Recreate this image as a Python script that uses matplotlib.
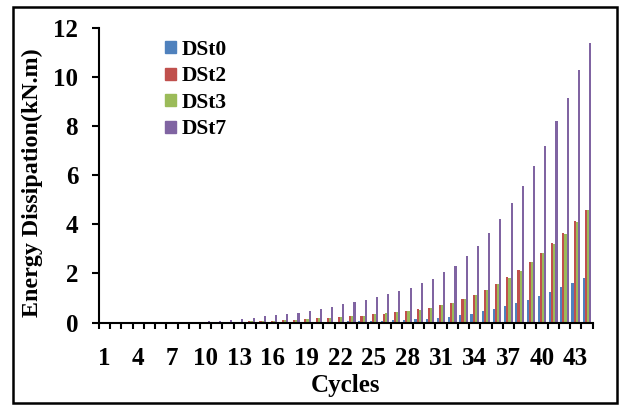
import numpy as np
import matplotlib
matplotlib.use("Agg")
import matplotlib.pyplot as plt
from matplotlib.patches import Rectangle, Patch

plt.rcParams['font.family'] = ['Liberation Serif', 'DejaVu Serif']
plt.rcParams['font.weight'] = 'bold'

# energy dissipated per cycle (kN.m)
cycles = np.arange(1, 45)
dst0 = [0, 0, 0, 0, 0, 0, 0, 0,
        0.005, 0.005, 0.01, 0.01, 0.01, 0.015, 0.015, 0.02, 0.02, 0.025, 0.03, 0.03,
        0.035, 0.04, 0.05, 0.055, 0.065, 0.075, 0.09, 0.1,
        0.14, 0.16, 0.2, 0.22, 0.29, 0.36, 0.46, 0.56, 0.67, 0.78, 0.93, 1.08,
        1.25, 1.43, 1.63, 1.83]
dst2 = [0, 0, 0, 0, 0, 0, 0, 0,
        0.01, 0.015, 0.02, 0.03, 0.04, 0.05, 0.06, 0.08, 0.1, 0.12,
        0.14, 0.17, 0.2, 0.22, 0.25, 0.28, 0.33, 0.36, 0.41, 0.46,
        0.54, 0.6, 0.7, 0.8, 0.96, 1.12, 1.34, 1.56, 1.84, 2.13,
        2.48, 2.83, 3.23, 3.64, 4.12, 4.59]
dst3 = [0, 0, 0, 0, 0, 0, 0, 0,
        0.01, 0.015, 0.02, 0.03, 0.04, 0.05, 0.06, 0.08, 0.1, 0.12,
        0.14, 0.17, 0.19, 0.22, 0.25, 0.28, 0.33, 0.37, 0.41, 0.46,
        0.53, 0.6, 0.7, 0.8, 0.95, 1.12, 1.34, 1.56, 1.83, 2.12,
        2.47, 2.82, 3.22, 3.63, 4.11, 4.58]
dst7 = [0, 0, 0, 0, 0, 0, 0, 0,
        0.04, 0.05, 0.08, 0.1, 0.16, 0.2, 0.25, 0.29, 0.35, 0.39,
        0.47, 0.55, 0.63, 0.74, 0.82, 0.91, 1.03, 1.15, 1.28, 1.41,
        1.6, 1.79, 2.06, 2.31, 2.71, 3.12, 3.65, 4.21, 4.88, 5.57,
        6.4, 7.21, 8.2, 9.15, 10.28, 11.4]

series = [("DSt0", dst0, "#4F81BD"),
          ("DSt2", dst2, "#C0504D"),
          ("DSt3", dst3, "#9BBB59"),
          ("DSt7", dst7, "#8064A2")]

fig = plt.figure(figsize=(6.19, 4.05), dpi=100)
ax = fig.add_axes([99 / 619, 82.5 / 405, 493.5 / 619, 294.2 / 405])

w = 0.19
for k, (name, vals, col) in enumerate(series):
    ax.bar(cycles + (k - 1.5) * w, vals, width=w, color=col, label=name)

ax.set_xlim(0.5, 44.5)
ax.set_ylim(0, 12)
ax.set_yticks(np.arange(0, 13, 2))
ax.set_xticks(cycles[::3])
ax.set_xticks(np.arange(0.5, 45, 1), minor=True)
ax.tick_params(axis='x', which='major', length=0, labelsize=18, pad=17.5)
ax.tick_params(axis='x', which='minor', length=4.5, width=1.5, direction='out')
ax.tick_params(axis='y', length=5, width=1.5, labelsize=18, pad=10)

for s in ['top', 'right']:
    ax.spines[s].set_visible(False)
for s in ['left', 'bottom']:
    ax.spines[s].set_linewidth(1.5)

ax.set_xlabel("Cycles", fontsize=18, fontweight='bold', labelpad=3)
ax.set_ylabel("Energy Dissipation(kN.m)", fontsize=17.3, fontweight='bold')
ax.yaxis.set_label_coords(-0.113, 0.474)

handles = [Patch(color=c) for _, _, c in series]
ax.legend(handles, [n for n, _, _ in series], loc='upper left',
          bbox_to_anchor=(0.112, 0.997), frameon=False,
          handlelength=0.5, handleheight=0.5, handletextpad=0.25,
          labelspacing=0.3, borderpad=0, prop={'weight': 'bold', 'size': 15.5})

# outer frame around the whole chart
fig.patches.append(Rectangle((13 / 619, 2 / 405), 604 / 619, 396 / 405,
                             transform=fig.transFigure, fill=False,
                             edgecolor='black', linewidth=1.8))

fig.savefig("out.png", dpi=100)
